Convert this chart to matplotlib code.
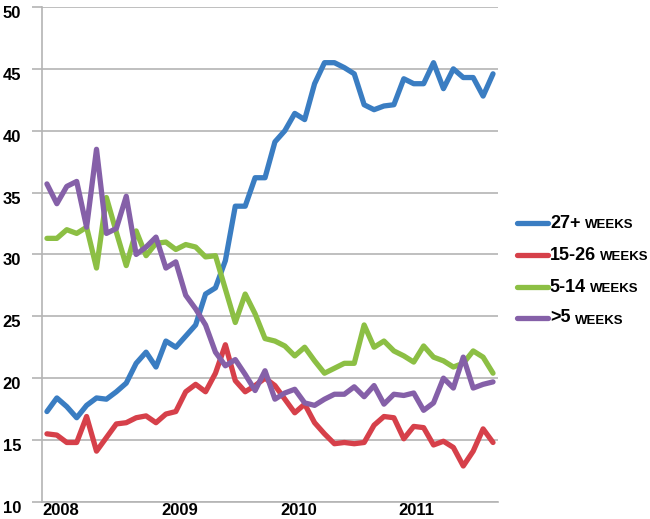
import matplotlib
matplotlib.use("Agg")
import matplotlib.pyplot as plt
import matplotlib.transforms as mtransforms
from matplotlib.lines import Line2D
import numpy as np

# Share of unemployed by duration, monthly Jan 2008 - Oct 2011 (percent)
months = np.arange(46)
year_labels = ["2008", "2009", "2010", "2011"]
year_starts = [0, 12, 24, 36]

weeks_27_plus = [17.3, 18.4, 17.7, 16.8, 17.8, 18.4, 18.3, 18.9, 19.6, 21.2,
                 22.1, 20.9, 23.0, 22.5, 23.4, 24.3, 26.8, 27.3, 29.5, 33.9,
                 33.9, 36.2, 36.2, 39.1, 40.0, 41.4, 40.9, 43.8, 45.5, 45.5,
                 45.1, 44.6, 42.1, 41.7, 42.0, 42.1, 44.2, 43.8, 43.8, 45.5,
                 43.4, 45.0, 44.3, 44.3, 42.8, 44.6]
weeks_15_26 = [15.5, 15.4, 14.8, 14.8, 16.9, 14.1, 15.2, 16.3, 16.4, 16.8,
               16.95, 16.4, 17.1, 17.3, 18.9, 19.5, 18.9, 20.4, 22.7, 19.8,
               18.9, 19.4, 20.0, 19.4, 18.3, 17.2, 17.9, 16.4, 15.5, 14.7,
               14.8, 14.7, 14.8, 16.2, 16.9, 16.8, 15.1, 16.1, 16.0, 14.6,
               14.9, 14.4, 12.9, 14.1, 15.9, 14.8]
weeks_5_14 = [31.3, 31.3, 32.0, 31.7, 32.2, 28.9, 34.6, 31.8, 29.1, 31.9,
              29.9, 30.9, 31.0, 30.4, 30.8, 30.6, 29.8, 29.9, 27.2, 24.5,
              26.8, 25.2, 23.2, 23.0, 22.6, 21.8, 22.5, 21.4, 20.4, 20.8,
              21.2, 21.2, 24.3, 22.5, 23.0, 22.2, 21.8, 21.3, 22.6, 21.7,
              21.4, 20.9, 21.2, 22.2, 21.7, 20.4]
weeks_under_5 = [35.7, 34.1, 35.5, 35.9, 32.2, 38.5, 31.7, 32.1, 34.7, 30.0,
                 30.6, 31.4, 28.9, 29.4, 26.7, 25.6, 24.3, 22.1, 21.0, 21.5,
                 20.3, 19.0, 20.6, 18.3, 18.8, 19.1, 18.0, 17.8, 18.3, 18.7,
                 18.7, 19.3, 18.5, 19.4, 17.9, 18.7, 18.6, 18.8, 17.4, 18.0,
                 20.0, 19.2, 21.7, 19.2, 19.5, 19.7]

series = [
    ("27+", "WEEKS", weeks_27_plus, "#3A7DC2"),
    ("15-26", "WEEKS", weeks_15_26, "#D6404A"),
    ("5-14", "WEEKS", weeks_5_14, "#8CBF44"),
    (">5", "WEEKS", weeks_under_5, "#8560A8"),
]

plt.rcParams["font.family"] = ["Liberation Sans", "DejaVu Sans"]

fig = plt.figure(figsize=(6.5, 5.19), dpi=100)
ax = fig.add_axes([0.0646, 0.033, 0.7015, 0.9535])

grid_c = "#B4B4B4"
for head, tail, vals, c in series:
    ax.plot(months, vals, color=c, lw=3.8, solid_joinstyle="round",
            solid_capstyle="round", zorder=3)

ax.set_xlim(-0.5, 45.5)
ax.set_ylim(10, 50)
ax.set_yticks(np.arange(10, 51, 5))
ax.yaxis.grid(True, color=grid_c, lw=1.2, zorder=0)
ax.set_axisbelow(True)

ax.set_xticks([s - 0.5 for s in year_starts])
ax.set_xticklabels(year_labels, ha="left", fontsize=12, fontweight="bold")
ax.tick_params(axis="x", length=0, pad=1)
ax.tick_params(axis="y", length=7, width=1.2, color=grid_c, pad=8,
               labelsize=12)
for lab in ax.get_yticklabels():
    lab.set_fontweight("bold")
    lab.set_transform(lab.get_transform() + mtransforms.ScaledTranslation(
        0, -5 / 100, fig.dpi_scale_trans))

for side in ["top", "right"]:
    ax.spines[side].set_visible(False)
for side in ["left", "bottom"]:
    ax.spines[side].set_color(grid_c)
    ax.spines[side].set_linewidth(1.2)

# legend drawn by hand to get the small-caps look of "WEEKS"
leg_y = [1 - 223 / 519, 1 - 255 / 519, 1 - 287 / 519, 1 - 318 / 519]
for (head, tail, vals, c), y in zip(series, leg_y):
    fig.add_artist(Line2D([0.796, 0.843], [y, y], color=c, lw=3.8,
                          solid_capstyle="round", transform=fig.transFigure))
    t1 = fig.text(0.846, y, head, fontsize=13, fontweight="bold",
                  va="center", ha="left")
    fig.text(0, 0, "")
    ax.annotate(tail, xy=(1, 0), xycoords=t1, xytext=(3, 0),
                textcoords="offset points", fontsize=9.5, fontweight="bold",
                va="bottom", ha="left", annotation_clip=False)

fig.savefig("out.png", dpi=100)
